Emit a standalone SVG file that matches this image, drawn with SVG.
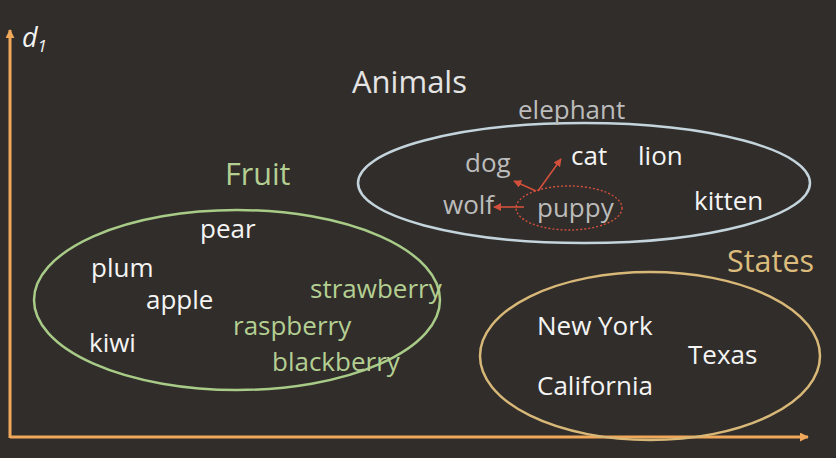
<svg xmlns="http://www.w3.org/2000/svg" width="836" height="458" viewBox="0 0 836 458">
<defs>
<style>
text{font-family:"Open Sans","Noto Sans",sans-serif;font-size:26px}
text.big{font-size:30.5px}
text.ax{font-size:27px;font-style:italic}
.w{fill:#f4f4f4}
.g{fill:#b4cf92}
.a{fill:#bcbcbc}
.t{fill:#dcbc7c}
.axis{stroke:#f0a85a;stroke-width:3;fill:none}
.red{stroke:#d2503c;stroke-width:1.6;fill:none}
</style>
<marker id="ah" viewBox="0 0 10 10" refX="9" refY="5" markerWidth="9" markerHeight="9" markerUnits="userSpaceOnUse" orient="auto"><path d="M0,0L10,5L0,10z" fill="#f0a85a"/></marker>
<marker id="rh" viewBox="0 0 10 10" refX="9" refY="5" markerWidth="8" markerHeight="8" markerUnits="userSpaceOnUse" orient="auto"><path d="M0,0L10,5L0,10z" fill="#d2503c"/></marker>
</defs>
<rect width="836" height="458" fill="#312d2a"/>
<g id="axes">
<path class="axis" d="M10,438V30" marker-end="url(#ah)"/>
<path class="axis" d="M10,437H808" marker-end="url(#ah)"/>
<text x="22" y="47" class="w ax">d<tspan font-size="17" dy="5">1</tspan></text>
</g>
<g id="fruit">
<ellipse cx="237" cy="300" rx="203" ry="90" fill="none" stroke="#a8cc88" stroke-width="2.5"/>
<text x="225" y="185" class="g big">Fruit</text>
<text x="200" y="238" class="w">pear</text>
<text x="91" y="277" class="w">plum</text>
<text x="146" y="309" class="w">apple</text>
<text x="89" y="352" class="w">kiwi</text>
<text x="310" y="298" class="g">strawberry</text>
<text x="233" y="335" class="g">raspberry</text>
<text x="272" y="371" class="g">blackberry</text>
</g>
<g id="animals">
<ellipse cx="584" cy="183" rx="226" ry="60" fill="none" stroke="#c4d4dc" stroke-width="2.5"/>
<text x="352" y="93" class="big" style="fill:#e4e4e4;font-size:31px">Animals</text>
<text x="518" y="119" class="a">elephant</text>
<text x="465" y="172" class="a">dog</text>
<text x="571" y="165" class="w">cat</text>
<text x="638" y="165" class="w">lion</text>
<text x="694" y="210" class="w">kitten</text>
<text x="443" y="214" class="a">wolf</text>
<text x="537" y="217" class="a">puppy</text>
</g>
<g id="puppy-ring">
<ellipse cx="569" cy="208" rx="53" ry="22" fill="none" stroke="#d2503c" stroke-width="1.4" stroke-dasharray="2,2"/>
</g>
<g id="connectors">
<path class="red" d="M538,191L561,159" marker-end="url(#rh)"/>
<path class="red" d="M536,191L514,181" marker-end="url(#rh)"/>
<path class="red" d="M524,207H494" marker-end="url(#rh)"/>
</g>
<g id="states">
<ellipse cx="650" cy="356" rx="170" ry="84" fill="none" stroke="#d8b878" stroke-width="2.5"/>
<text x="727" y="272" class="t big">States</text>
<text x="537" y="335" class="w">New York</text>
<text x="688" y="364" class="w">Texas</text>
<text x="537" y="395" class="w">California</text>
</g>
</svg>
